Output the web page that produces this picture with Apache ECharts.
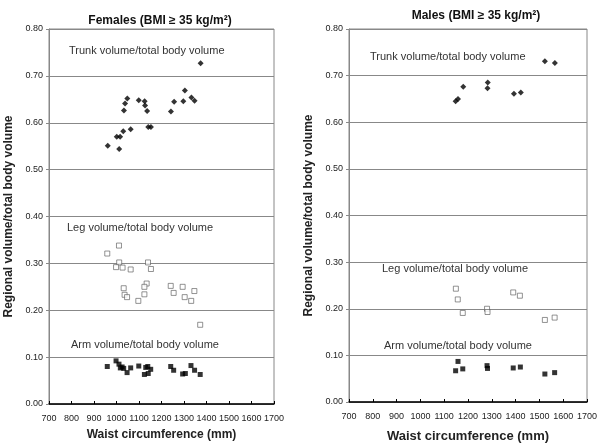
<!DOCTYPE html>
<html><head><meta charset="utf-8">
<script src="https://cdn.jsdelivr.net/npm/echarts@6/dist/echarts.min.js"></script>
<style>html,body{margin:0;padding:0;background:#fff}#c{width:601px;height:448px}</style>
</head><body><div id="c"></div>
<script>
// Females (BMI >= 35)
const femTrunkX = [1374,1304,1333,1347,1297,1256,1242,1048,1038,1033,1099,1125,1127,1136,1141,1153,1063,1030,1001,1016,961,1012];
const femTrunkY = [0.727,0.669,0.654,0.647,0.646,0.645,0.624,0.652,0.641,0.626,0.648,0.646,0.637,0.625,0.591,0.591,0.586,0.582,0.570,0.570,0.551,0.544];
const femLegX = [1011,959,1012,998,1027,1063,1140,1153,1032,1036,1047,1097,1134,1124,1124,1241,1254,1294,1303,1346,1332,1372];
const femLegY = [0.338,0.321,0.302,0.292,0.291,0.287,0.302,0.288,0.247,0.233,0.228,0.220,0.257,0.250,0.234,0.252,0.237,0.250,0.228,0.241,0.220,0.169];
const femArmX = [959,998,1011,1017,1025,1032,1047,1063,1099,1130,1139,1152,1124,1141,1241,1254,1294,1306,1331,1347,1372];
const femArmY = [0.080,0.092,0.085,0.077,0.079,0.076,0.067,0.077,0.081,0.078,0.080,0.074,0.063,0.065,0.080,0.072,0.064,0.065,0.082,0.072,0.063];
// Males (BMI >= 35)
const malTrunkX = [1523,1565,1283,1282,1180,1158,1148,1393,1422];
const malTrunkY = [0.731,0.727,0.685,0.673,0.676,0.650,0.645,0.661,0.664];
const malLegX = [1149,1157,1178,1280,1282,1390,1418,1523,1564];
const malLegY = [0.243,0.220,0.191,0.200,0.193,0.235,0.228,0.176,0.181];
const malArmX = [1158,1148,1178,1280,1282,1390,1420,1523,1564];
const malArmY = [0.087,0.067,0.071,0.078,0.072,0.073,0.075,0.060,0.063];
const titles = ['Females (BMI \u2265 35 kg/m\u00b2)', 'Males (BMI \u2265 35 kg/m\u00b2)'];
const xName = 'Waist circumference (mm)';
const yName = 'Regional volume/total body volume';
const annTrunk = 'Trunk volume/total body volume';
const annLeg = 'Leg volume/total body volume';
const annArm = 'Arm volume/total body volume';

const zip = (a, b) => a.map((v, i) => [v, b[i]]);
const FONT = '"Liberation Sans", Arial, sans-serif';
const chart = echarts.init(document.getElementById('c'), null, {renderer: 'canvas'});

function xAx(gi, nameSize, gap) {
  return {
    gridIndex: gi, type: 'value', min: 700, max: 1700, interval: 100,
    name: xName, nameLocation: 'middle', nameGap: gap,
    nameTextStyle: {fontFamily: FONT, fontWeight: 'bold', fontSize: nameSize, color: '#222'},
    axisLine: {lineStyle: {color: '#000', width: 1.5}},
    axisTick: {show: true, inside: true, length: 3, lineStyle: {color: '#000'}},
    axisLabel: {fontFamily: FONT, fontSize: 9, color: '#222', margin: 10, formatter: v => String(v)},
    splitLine: {show: false}
  };
}
function yAx(gi) {
  return {
    gridIndex: gi, type: 'value', min: 0, max: 0.8, interval: 0.1,
    name: yName, nameLocation: 'middle', nameGap: 34,
    nameTextStyle: {fontFamily: FONT, fontWeight: 'bold', fontSize: 12, color: '#222'},
    axisLine: {show: true, lineStyle: {color: '#888'}},
    axisTick: {show: true, length: 3, lineStyle: {color: '#888'}},
    axisLabel: {fontFamily: FONT, fontSize: 9, color: '#222', margin: 6, formatter: v => v.toFixed(2)},
    splitLine: {show: true, lineStyle: {color: '#888', width: 1}}
  };
}
const trunkSym = {symbol: 'diamond', symbolSize: 6, itemStyle: {color: '#000'}};
const legSym = {symbol: 'rect', symbolSize: 5, itemStyle: {color: '#fff', borderColor: '#555', borderWidth: 0.8}};
const armSym = {symbol: 'rect', symbolSize: 5, itemStyle: {color: '#000'}};
function ser(gi, data, sym) {
  return Object.assign({type: 'scatter', xAxisIndex: gi, yAxisIndex: gi, data: data, silent: true}, sym);
}
function txt(x, y, s) {
  return {type: 'text', left: x, top: y, style: {text: s, fontFamily: FONT, fontSize: 11, fill: '#333'}};
}

chart.setOption({
  animation: false,
  backgroundColor: '#fff',
  title: [
    {text: titles[0], left: 155, top: 10, textAlign: 'center', textStyle: {fontFamily: FONT, fontWeight: 'bold', fontSize: 12, color: '#111'}},
    {text: titles[1], left: 471, top: 5, textAlign: 'center', textStyle: {fontFamily: FONT, fontWeight: 'bold', fontSize: 12, color: '#111'}}
  ],
  grid: [
    {left: 49, right: 327, top: 29, bottom: 44, show: true, borderColor: '#888', borderWidth: 1},
    {left: 349, right: 14, top: 29, bottom: 44, show: true, borderColor: '#888', borderWidth: 1}
  ],
  xAxis: [xAx(0, 12, 25), xAx(1, 13, 28)],
  yAxis: [yAx(0), yAx(1)],
  series: [
    ser(0, zip(femTrunkX, femTrunkY), trunkSym),
    ser(0, zip(femLegX, femLegY), legSym),
    ser(0, zip(femArmX, femArmY), armSym),
    ser(1, zip(malTrunkX, malTrunkY), trunkSym),
    ser(1, zip(malLegX, malLegY), legSym),
    ser(1, zip(malArmX, malArmY), armSym)
  ],
  graphic: [
    txt(69, 45, annTrunk), txt(67, 222, annLeg), txt(71, 339, annArm),
    txt(370, 51, annTrunk), txt(382, 263, annLeg), txt(384, 340, annArm)
  ]
});
</script></body></html>
